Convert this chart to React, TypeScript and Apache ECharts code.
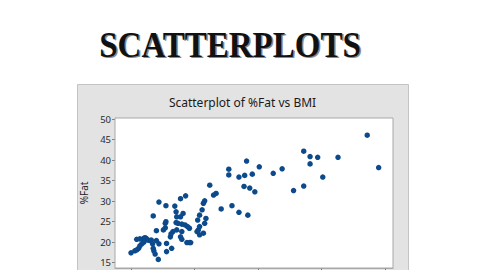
import React, { useEffect, useRef } from "react";
import * as echarts from "echarts";

const bmi: number[] = [
  20.0, 20.3, 20.45, 20.6, 20.7, 20.85, 21.0, 20.45, 20.7, 21.0,
  21.1, 21.2, 21.35, 21.5, 21.0, 21.6, 21.7, 21.75, 21.8, 21.9,
  22.15, 22.0, 22.2, 22.0, 21.75, 22.2, 22.55, 22.7, 22.7, 22.75,
  22.75, 22.8, 23.2, 22.8, 23.1, 23.15, 23.3, 23.45, 23.9, 24.3,
  23.55, 23.6, 23.9, 24.1, 23.55, 23.7, 24.0, 24.25, 24.45, 24.6,
  23.6, 24.0, 23.9, 24.0, 24.4, 24.6, 24.7, 25.2, 25.3, 25.4,
  25.25, 25.4, 25.6, 25.7, 25.8, 25.9, 25.8, 25.7, 25.4, 26.2,
  26.5, 26.7, 27.1, 27.7, 27.7, 27.95, 28.5, 28.5, 38.6, 39.5,
  33.6, 34.1, 34.7, 34.1, 36.3, 35.1, 32.8, 33.6, 31.9, 31.2,
  30.1, 29.1, 29.55, 28.95, 28.9, 29.35, 29.75, 29.2,
];

const fat: number[] = [
  17.4, 17.9, 18.1, 18.5, 19.1, 19.6, 20.0, 20.7, 20.8, 20.9,
  21.1, 20.9, 20.5, 20.4, 20.1, 20.5, 19.6, 18.5, 17.9, 17.1,
  15.8, 20.4, 19.6, 22.8, 26.4, 29.8, 23.0, 23.5, 24.6, 25.0,
  28.9, 17.7, 18.5, 19.7, 21.3, 22.0, 22.6, 28.8, 30.6, 31.3,
  27.4, 26.2, 26.2, 27.0, 24.8, 24.6, 24.4, 24.2, 23.8, 23.4,
  23.0, 22.6, 21.3, 20.7, 19.9, 19.9, 19.9, 22.6, 23.0, 23.8,
  25.4, 26.6, 27.9, 29.5, 30.1, 25.8, 24.6, 22.2, 21.8, 33.9,
  31.5, 31.9, 28.1, 37.8, 36.4, 28.9, 35.9, 27.3, 46.1, 38.2,
  42.2, 40.9, 40.7, 39.1, 40.7, 35.9, 32.6, 33.7, 37.9, 36.8,
  38.4, 39.8, 36.6, 36.3, 33.6, 33.2, 32.3, 26.6,
];

const yTicks: number[] = [15, 20, 25, 30, 35, 40, 45, 50];
const xTicks: number[] = [20, 25, 30, 35, 40];

const mainTitle = "SCATTERPLOTS";
const chartTitle = "Scatterplot of %Fat vs BMI";
const yName = "%Fat";

export default function App() {
  const ref = useRef<HTMLDivElement>(null);

  useEffect(() => {
    if (!ref.current) return;
    const chart = echarts.init(ref.current, undefined, { renderer: "svg" });
    const points = bmi.map((b, i) => [b, fat[i]]);

    chart.setOption({
      animation: false,
      backgroundColor: "#ffffff",
      graphic: [
        {
          type: "rect",
          z: -10,
          shape: { x: 77.5, y: 84.5, width: 331, height: 200 },
          style: { fill: "#e3e3e3", stroke: "#c4c4c4", lineWidth: 1 },
        },
        {
          type: "text",
          z: 10,
          x: 231.5,
          y: 46.5,
          scaleY: 1.06,
          style: {
            text: mainTitle,
            fill: "#8a8a8a",
            font: "bold 33px 'Liberation Serif'",
            align: "center",
            verticalAlign: "middle",
          },
        },
        {
          type: "text",
          z: 11,
          x: 230,
          y: 45,
          scaleY: 1.06,
          style: {
            text: mainTitle,
            fill: "#111111",
            font: "bold 33px 'Liberation Serif'",
            align: "center",
            verticalAlign: "middle",
          },
        },
        {
          type: "text",
          z: 11,
          x: 242.5,
          y: 102,
          style: {
            text: chartTitle,
            fill: "#1a1a1a",
            font: "12px 'Noto Sans'",
            align: "center",
            verticalAlign: "middle",
          },
        },
      ],
      grid: {
        left: 115,
        top: 118,
        right: 87,
        bottom: 2,
        show: true,
        backgroundColor: "#ffffff",
        borderColor: "#a8a8a8",
        borderWidth: 1,
        z: 1,
      },
      xAxis: {
        type: "value",
        min: 18.74,
        max: 40.63,
        axisLine: { show: true, lineStyle: { color: "#a8a8a8" } },
        axisTick: {
          show: true,
          length: 4,
          customValues: xTicks,
          lineStyle: { color: "#808080" },
        },
        axisLabel: { show: false, customValues: xTicks },
        splitLine: { show: false },
      },
      yAxis: {
        type: "value",
        min: 13.7,
        max: 50.3,
        name: yName,
        nameLocation: "middle",
        nameGap: 17,
        nameTextStyle: { fontFamily: "Noto Sans", fontSize: 10, color: "#222" },
        axisLine: { show: true, lineStyle: { color: "#a8a8a8" } },
        axisTick: {
          show: true,
          length: 3,
          customValues: yTicks,
          lineStyle: { color: "#808080" },
        },
        axisLabel: {
          customValues: yTicks,
          margin: 4,
          fontFamily: "Noto Sans",
          fontSize: 9.5,
          color: "#2a2a2a",
        },
        splitLine: { show: false },
      },
      series: [
        {
          type: "scatter",
          data: points,
          symbol: "circle",
          symbolSize: 5.5,
          itemStyle: { color: "#0c4a8c", opacity: 1 },
          z: 3,
        },
      ],
    });

    return () => chart.dispose();
  }, []);

  return (
    <div
      ref={ref}
      style={{ position: "fixed", left: 0, top: 0, width: 480, height: 270 }}
    />
  );
}
